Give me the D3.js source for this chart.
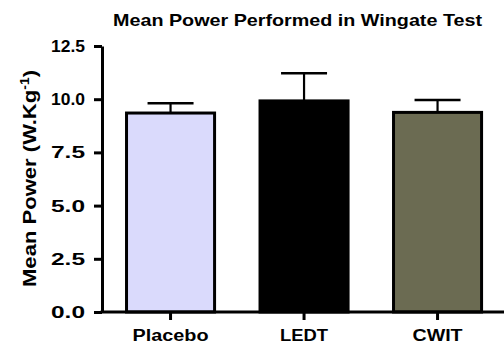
<!DOCTYPE html>
<html>
<head>
<meta charset="utf-8">
<script src="https://cdn.jsdelivr.net/npm/d3@7"></script>
<style>
  html, body { margin: 0; padding: 0; background: #fff; }
  svg { display: block; font-family: "Liberation Sans", Arial, sans-serif; font-weight: bold; }
</style>
</head>
<body>
<div id="chart"></div>
<script>
// chart data
const groups = ["Placebo", "LEDT", "CWIT"];
const meanPower = [9.35, 9.92, 9.38];
const sdPower = [0.46, 1.30, 0.58];
const barColors = ["#dadafc", "#000000", "#6b6b52"];
const yTicks = [0, 2.5, 5, 7.5, 10, 12.5];
const labelWidths = [76, 48, 50];

const width = 504;
const height = 346;

const svg = d3.select("#chart")
    .append("svg")
    .attr("width", width)
    .attr("height", height);

const yScale = d3.scaleLinear()
    .domain([0, 12.5])
    .range([312, 46]);

const xScale = d3.scaleBand()
    .domain(groups)
    .range([103.8, 504.3])
    .paddingInner(0.318)
    .paddingOuter(0.159);

const rows = groups.map((g, i) => ({ g, mean: meanPower[i], sd: sdPower[i], color: barColors[i], lw: labelWidths[i] }));

// title
svg.append("text")
    .attr("x", 297.5)
    .attr("y", 26)
    .attr("text-anchor", "middle")
    .attr("font-size", 17)
    .attr("textLength", 369)
    .attr("lengthAdjust", "spacingAndGlyphs")
    .text("Mean Power Performed in Wingate Test");

// error bars (drawn under the bars)
const err = svg.append("g").attr("class", "errors");
err.selectAll("line.stem")
    .data(rows)
    .join("line")
    .attr("class", "stem")
    .attr("x1", d => xScale(d.g) + xScale.bandwidth() / 2)
    .attr("x2", d => xScale(d.g) + xScale.bandwidth() / 2)
    .attr("y1", d => yScale(d.mean))
    .attr("y2", d => yScale(d.mean + d.sd))
    .attr("stroke", "#000")
    .attr("stroke-width", 2.2);

err.selectAll("line.cap")
    .data(rows)
    .join("line")
    .attr("class", "cap")
    .attr("x1", d => xScale(d.g) + xScale.bandwidth() / 2 - 23)
    .attr("x2", d => xScale(d.g) + xScale.bandwidth() / 2 + 23)
    .attr("y1", d => yScale(d.mean + d.sd))
    .attr("y2", d => yScale(d.mean + d.sd))
    .attr("stroke", "#000")
    .attr("stroke-width", 2.4);

// bars
svg.append("g")
    .selectAll("rect")
    .data(rows)
    .join("rect")
    .attr("x", d => xScale(d.g) + 1.5)
    .attr("width", xScale.bandwidth() - 3)
    .attr("y", d => yScale(d.mean))
    .attr("height", d => yScale(0) - yScale(d.mean))
    .attr("fill", d => d.color)
    .attr("stroke", "#000")
    .attr("stroke-width", 3);

// y axis
const yAxis = svg.append("g")
    .attr("transform", "translate(102,0)")
    .call(d3.axisLeft(yScale)
        .tickValues(yTicks)
        .tickSize(8)
        .tickSizeOuter(0)
        .tickPadding(9)
        .tickFormat(d3.format(".1f")));

yAxis.select(".domain").attr("stroke", "#000").attr("stroke-width", 3);
yAxis.selectAll(".tick line").attr("stroke", "#000").attr("stroke-width", 3);
yAxis.selectAll(".tick text")
    .attr("font-size", 17)
    .attr("font-family", "Liberation Sans, Arial, sans-serif")
    .attr("font-weight", "bold")
    .attr("fill", "#000")
    .attr("textLength", 34)
    .attr("lengthAdjust", "spacingAndGlyphs");

// x axis
const xAxis = svg.append("g")
    .attr("transform", `translate(0,${yScale(0)})`)
    .call(d3.axisBottom(xScale).tickSize(8).tickSizeOuter(0).tickFormat(""));

xAxis.select(".domain").attr("stroke", "#000").attr("stroke-width", 3)
    .attr("d", "M100.5,0H504");
xAxis.selectAll(".tick line").attr("stroke", "#000").attr("stroke-width", 3);

// x labels
svg.append("g")
    .selectAll("text")
    .data(rows)
    .join("text")
    .attr("x", d => xScale(d.g) + xScale.bandwidth() / 2)
    .attr("y", 341)
    .attr("text-anchor", "middle")
    .attr("font-size", 16)
    .attr("textLength", d => d.lw)
    .attr("lengthAdjust", "spacingAndGlyphs")
    .text(d => d.g);

// y label
const yLabel = svg.append("text")
    .attr("transform", "translate(36,178.5) rotate(-90)")
    .attr("text-anchor", "middle")
    .attr("font-size", 19)
    .attr("textLength", 217)
    .attr("lengthAdjust", "spacingAndGlyphs");
yLabel.append("tspan").text("Mean Power (W.Kg");
yLabel.append("tspan").attr("font-size", 12).attr("dy", -7).text("-1");
yLabel.append("tspan").attr("dy", 7).text(")");
</script>
</body>
</html>
